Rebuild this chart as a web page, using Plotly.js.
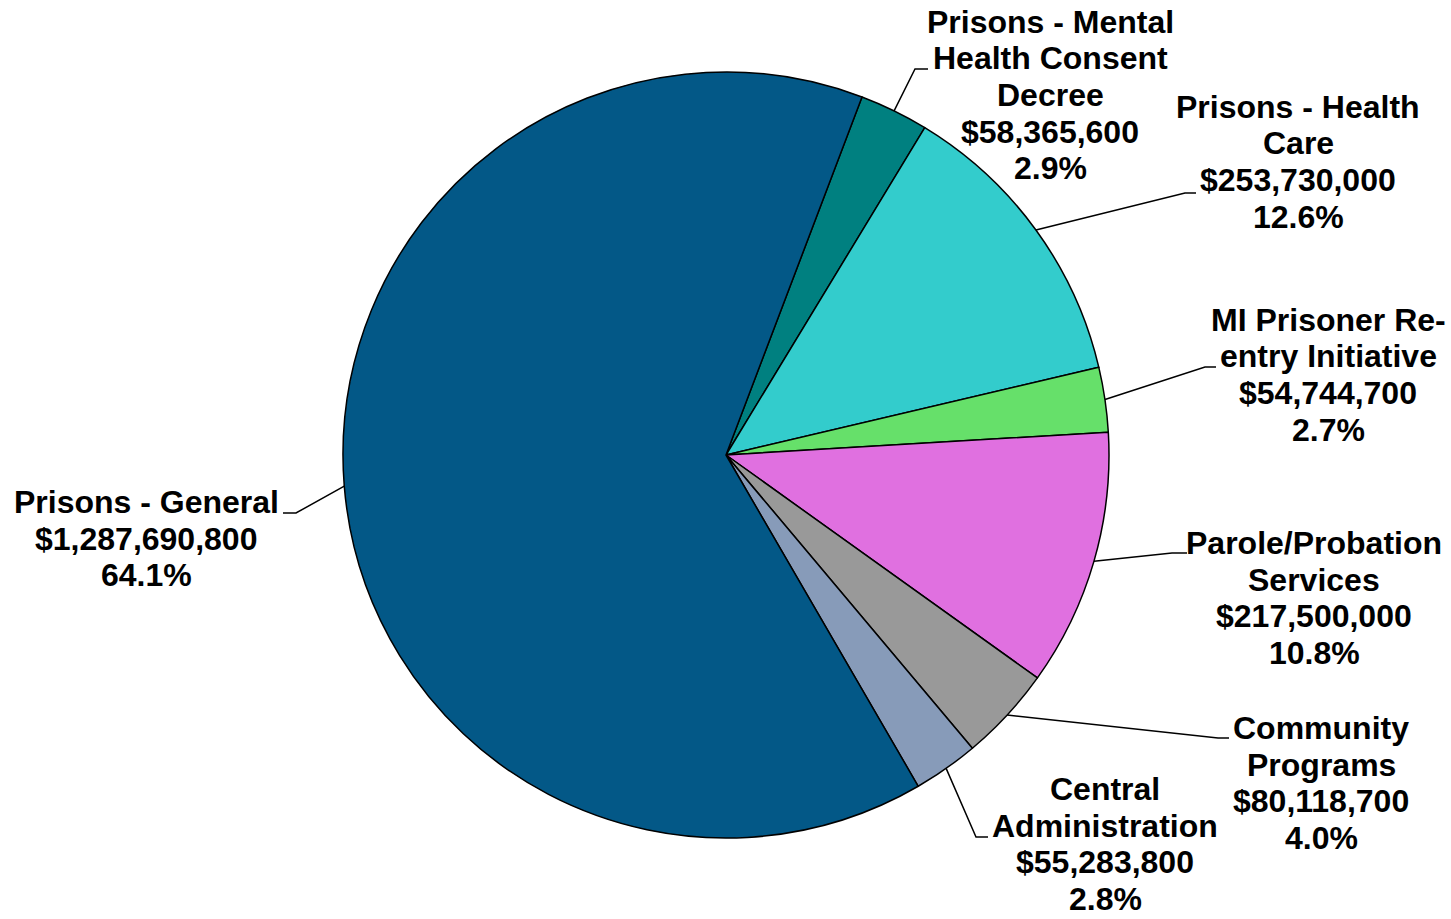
<!DOCTYPE html>
<html>
<head>
<meta charset="utf-8">
<script src="https://cdn.plot.ly/plotly-3.0.1.min.js"></script>
<style>
html,body{margin:0;padding:0;background:#fff;}
#chart{width:1451px;height:919px;}
</style>
</head>
<body>
<div id="chart"></div>
<script>
// ---- data ----
var categories = [
  "Prisons - Mental<br>Health Consent<br>Decree",
  "Prisons - Health<br>Care",
  "MI Prisoner Re-<br>entry Initiative",
  "Parole/Probation<br>Services",
  "Community<br>Programs",
  "Central<br>Administration",
  "Prisons - General"
];
var values = [58365600, 253730000, 54744700, 217500000, 80118700, 55283800, 1287690800];
var colors = ["#008080", "#33CCCC", "#66E06A", "#E070E0", "#999999", "#879BB9", "#035887"];

// ---- layout constants (pixels) ----
var W = 1451, H = 919;
var CX = 726, CY = 455, R = 383;
var START_ANGLE = 20.8; // degrees clockwise from 12 o'clock
// label placement: centre x, y of first line, elbow point, end of horizontal stub
var labelPos = [
  {x: 1050, y: 22,  elbow: [915, 69],   end: [928, 69]},
  {x: 1298, y: 107, elbow: [1185, 193], end: [1196, 193]},
  {x: 1328, y: 320, elbow: [1205, 367], end: [1216, 367]},
  {x: 1314, y: 543, elbow: [1172, 553], end: [1187, 553]},
  {x: 1321, y: 728, elbow: [1218, 738], end: [1229, 738]},
  {x: 1105, y: 789, elbow: [976, 837],  end: [988, 837]},
  {x: 146,  y: 502, elbow: [296, 513],  end: [283, 513]}
];
var LINE_GAP = 36.5;
var FONT = {family: "Liberation Sans, Arial, sans-serif", size: 32, color: "#000"};

var total = values.reduce(function(a, b){ return a + b; }, 0);
function px(x){ return x / W; }
function py(y){ return 1 - y / H; }

var annotations = [];
var shapes = [];
var cum = 0;
values.forEach(function(v, i){
  var mid = START_ANGLE + (cum + v / 2) / total * 360;
  cum += v;
  var a = mid * Math.PI / 180;
  var sx = CX + R * Math.sin(a), sy = CY - R * Math.cos(a);
  var lp = labelPos[i];
  shapes.push({
    type: "path", xref: "paper", yref: "paper",
    path: "M " + px(sx) + " " + py(sy) + " L " + px(lp.elbow[0]) + " " + py(lp.elbow[1]) +
          " L " + px(lp.end[0]) + " " + py(lp.end[1]),
    line: {color: "#000", width: 1.5}
  });
  var lines = categories[i].split("<br>");
  lines.push("$" + v.toLocaleString("en-US"));
  lines.push((v / total * 100).toFixed(1) + "%");
  lines.forEach(function(t, j){
    annotations.push({
      xref: "paper", yref: "paper",
      x: px(lp.x), y: py(lp.y + j * LINE_GAP),
      xanchor: "center", yanchor: "middle",
      text: "<b>" + t + "</b>", showarrow: false, font: FONT
    });
  });
});

var trace = {
  type: "pie",
  labels: categories.map(function(c){ return c.replace(/<br>/g, " "); }),
  values: values,
  sort: false,
  direction: "clockwise",
  rotation: START_ANGLE,
  marker: {colors: colors, line: {color: "#000", width: 1.5}},
  textinfo: "none",
  hoverinfo: "label+value+percent",
  domain: {x: [(CX - R) / W, (CX + R) / W], y: [(H - CY - R) / H, (H - CY + R) / H]},
  showlegend: false
};

var layout = {
  width: W, height: H,
  margin: {l: 0, r: 0, t: 0, b: 0},
  paper_bgcolor: "#fff",
  showlegend: false,
  annotations: annotations,
  shapes: shapes
};

Plotly.newPlot("chart", [trace], layout, {displayModeBar: false, staticPlot: true});
</script>
</body>
</html>
